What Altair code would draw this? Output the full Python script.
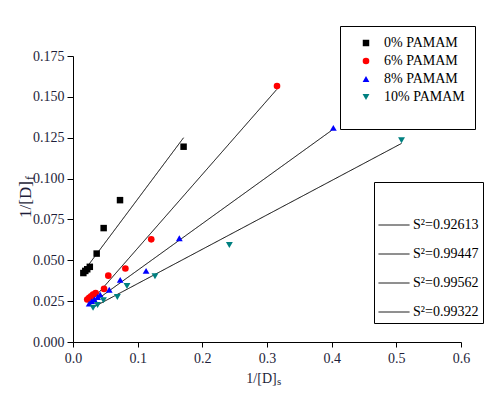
import altair as alt
import pandas as pd

series = ["0% PAMAM", "6% PAMAM", "8% PAMAM", "10% PAMAM"]
colors = ["#000000", "#ff0000", "#0000ff", "#008080"]
shapes = ["square", "circle", "triangle-up", "triangle-down"]
marker_sizes = [42, 48, 70, 70]

x0 = [0.016, 0.019, 0.022, 0.026, 0.0366, 0.0474, 0.0727, 0.171]
y0 = [0.0422, 0.0435, 0.0445, 0.046, 0.0541, 0.0697, 0.0868, 0.1195]
x6 = [0.022, 0.025, 0.028, 0.031, 0.035, 0.048, 0.0546, 0.081, 0.121, 0.3155]
y6 = [0.026, 0.027, 0.028, 0.029, 0.030, 0.0325, 0.0406, 0.045, 0.0628, 0.1566]
x8 = [0.025, 0.029, 0.033, 0.038, 0.042, 0.056, 0.073, 0.113, 0.1644, 0.4026]
y8 = [0.0235, 0.025, 0.026, 0.0275, 0.029, 0.032, 0.038, 0.0435, 0.0635, 0.131]
x10 = [0.031, 0.038, 0.047, 0.0686, 0.0835, 0.1268, 0.2418, 0.508]
y10 = [0.021, 0.0226, 0.0255, 0.0275, 0.0343, 0.0402, 0.0594, 0.1235]

fit_labels = ["S²=0.92613", "S²=0.99447", "S²=0.99562", "S²=0.99322"]
fit_x = [[0.017, 0.171], [0.025, 0.315], [0.025, 0.40], [0.030, 0.508]]
fit_y = [[0.0435, 0.125], [0.0235, 0.1545], [0.0225, 0.1295], [0.021, 0.1215]]

x_ticks = [0.0, 0.05, 0.1, 0.15, 0.2, 0.25, 0.3, 0.35, 0.4, 0.45, 0.5, 0.55, 0.6]
y_ticks = [0.0, 0.0125, 0.025, 0.0375, 0.05, 0.0625, 0.075, 0.0875, 0.1,
           0.1125, 0.125, 0.1375, 0.15, 0.1625, 0.175]

rows = []
for name, xs, ys in zip(series, [x0, x6, x8, x10], [y0, y6, y8, y10]):
    for a, b in zip(xs, ys):
        rows.append({"series": name, "x": a, "y": b})
pts = pd.DataFrame(rows)

lrows = []
for lab, xs, ys in zip(fit_labels, fit_x, fit_y):
    for a, b in zip(xs, ys):
        lrows.append({"fit": lab, "x": a, "y": b})
lines = pd.DataFrame(lrows)

FONT = "Liberation Serif"
LBL = "#1e1e3a"

xscale = alt.Scale(domain=[0, 0.6], nice=False, zero=False)
yscale = alt.Scale(domain=[0, 0.175], nice=False, zero=False)

xaxis = alt.Axis(
    values=x_ticks, title="1/[D]", grid=False,
    labelExpr="abs(datum.value*10 - round(datum.value*10)) < 0.001 ? format(datum.value, '.1f') : ''",
    labelOverlap=False, labelFlush=False, tickSize=5, labelPadding=4,
    titleFontSize=14, titleX=188, titleY=40, titleBaseline="alphabetic",
    titleAlign="center",
)
yaxis = alt.Axis(
    values=y_ticks, title="1/[D]", grid=False,
    labelExpr="abs(datum.value*40 - round(datum.value*40)) < 0.001 ? format(datum.value, '.3f') : ''",
    labelOverlap=False, labelFlush=False,
    tickSize={"condition": {"test": "abs(datum.value*40 - round(datum.value*40)) > 0.001", "value": 3}, "value": 6},
    labelPadding=3, titleFontSize=17, titleX=-43, titleAngle=270,
    titleBaseline="alphabetic", titleAlign="center",
)

pt_legend = alt.Legend(
    orient="none", legendX=267, legendY=-30, title="\u00a0",
    titleOrient="bottom", titleFontSize=13, titlePadding=2,
    strokeColor="black", padding=10, labelFont=FONT, labelFontSize=14,
    labelColor="black", rowPadding=4, symbolOffset=9, labelOffset=11,
    symbolSize=50, symbolStrokeWidth=0, symbolOpacity=1,
)

line_layer = alt.Chart(lines).mark_line(strokeWidth=1, color="black").encode(
    x=alt.X("x:Q", scale=xscale, axis=xaxis),
    y=alt.Y("y:Q", scale=yscale, axis=yaxis),
    strokeDash=alt.StrokeDash(
        "fit:N",
        scale=alt.Scale(domain=fit_labels, range=[[1, 0]] * 4),
        sort=fit_labels,
        legend=alt.Legend(
            orient="none", legendX=301, legendY=126, title="\u00a0",
            titleFontSize=19, titlePadding=4, strokeColor="black", padding=4,
            symbolType="stroke", symbolSize=961, symbolStrokeColor="black",
            symbolStrokeWidth=1, symbolOpacity=1, labelFont=FONT, labelFontSize=14,
            labelColor="black", rowPadding=6, labelOffset=3,
        ),
    ),
)

point_layer = alt.Chart(pts).mark_point(filled=True, opacity=1).encode(
    x=alt.X("x:Q", scale=xscale),
    y=alt.Y("y:Q", scale=yscale),
    color=alt.Color("series:N", scale=alt.Scale(domain=series, range=colors), sort=series,
                    legend=pt_legend),
    shape=alt.Shape("series:N", scale=alt.Scale(domain=series, range=shapes), sort=series,
                    legend=pt_legend),
    size=alt.Size("series:N", scale=alt.Scale(domain=series, range=marker_sizes), legend=None),
)

sub_x = alt.Chart(pd.DataFrame({"t": ["s"]})).mark_text(
    font=FONT, fontSize=11, color=LBL, align="left", baseline="alphabetic"
).encode(text="t:N", x=alt.value(204), y=alt.value(329))

sub_y = alt.Chart(pd.DataFrame({"t": ["f"]})).mark_text(
    font=FONT, fontSize=12, color=LBL, align="left", baseline="alphabetic", angle=270
).encode(text="t:N", x=alt.value(-39), y=alt.value(124))

chart = alt.layer(line_layer, point_layer, sub_x, sub_y).properties(
    width=388, height=286,
    padding={"left": 65, "top": 48, "right": 25, "bottom": 44},
    autosize=alt.AutoSizeParams(type="none"),
).configure_view(stroke=None).configure_axis(
    domainColor="black", tickColor="black", labelFont=FONT, labelFontSize=14,
    labelColor=LBL, titleFont=FONT, titleColor=LBL,
    titleFontWeight="normal",
).configure_legend(labelFont=FONT, labelColor="black", labelFontSize=14)

chart.save("out.html", embed_options={"renderer": "svg", "actions": False})
